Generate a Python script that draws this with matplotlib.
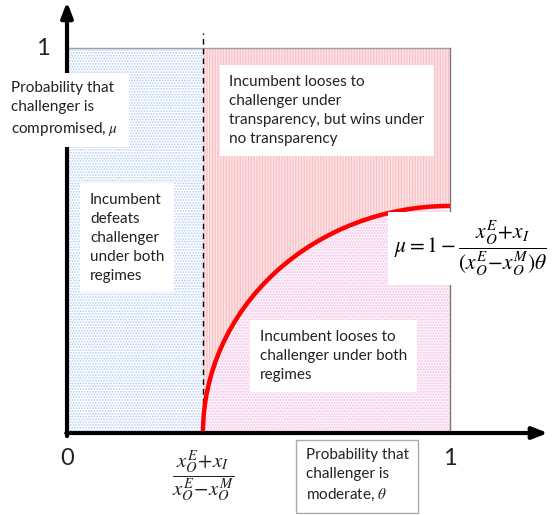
"""Schematic: incumbent vs challenger regions in (theta, mu) space.

Output: out.png
"""
import matplotlib
matplotlib.use("Agg")
import matplotlib.pyplot as plt  # noqa: E402
from matplotlib.patches import Rectangle, Ellipse, Arc  # noqa: E402

plt.rcParams["font.family"] = ["Lato", "DejaVu Sans"]
plt.rcParams["mathtext.fontset"] = "stix"
plt.rcParams["hatch.linewidth"] = 0.9

# values
THRESHOLD = 0.355        # (x_O^E + x_I)/(x_O^E - x_O^M) on the theta axis
CURVE_TOP = 0.59         # mu of the boundary at theta = 1
X_TICKS = [0, THRESHOLD, 1]
X_TICKLABELS = ["0", r"$\dfrac{x_O^E\!+\!x_I}{x_O^E\!-\!x_O^M}$", "1"]
Y_TICKS = [1]
Y_TICKLABELS = ["1"]
REGION_TEXT = [
    "Incumbent\ndefeats\nchallenger\nunder both\nregimes",
    "Incumbent looses to\nchallenger under\ntransparency, but wins under\nno transparency",
    "Incumbent looses to\nchallenger under both\nregimes",
]
Y_LABEL = "Probability that\nchallenger is\ncompromised, $\\mu$"
X_LABEL = "Probability that\nchallenger is\nmoderate, $\\theta$"
FORMULA = r"$\mu = 1 - \dfrac{x_O^E\!+\!x_I}{(x_O^E\!-\!x_O^M)\theta}$"

INK = "#222222"
BLUE_DOT = "#b5cff7"
PINK_BG, PINK_LINE = "#fde3e5", "#f8c2c7"
LOW_BG, LOW_DOT = "#fdf2fa", "#f2c4e8"


def main():
    fig = plt.figure(figsize=(5.56, 5.15), dpi=100)
    ax = fig.add_axes([0, 0, 1, 1])
    ax.set_xlim(-0.175, 1.277)
    ax.set_ylim(-0.213, 1.125)
    ax.axis("off")

    # regions
    ax.add_patch(Rectangle((0, 0), THRESHOLD, 1, facecolor="white",
                           edgecolor=BLUE_DOT, hatch="......", lw=0, zorder=1))
    box = Rectangle((THRESHOLD, 0), 1 - THRESHOLD, 1, facecolor=PINK_BG,
                    edgecolor=PINK_LINE, hatch="||||||", lw=0, zorder=1)
    ax.add_patch(box)
    under = Ellipse((1, 0), 2 * (1 - THRESHOLD), 2 * CURVE_TOP, facecolor=LOW_BG,
                    edgecolor=LOW_DOT, hatch="......", lw=0, zorder=2)
    ax.add_patch(under)
    under.set_clip_path(box)

    # box outline
    ax.plot([0, 1], [1, 1], color="#a0a0a0", lw=1, zorder=3)
    ax.plot([1, 1], [0, 1], color="#777777", lw=1, zorder=3)
    ax.plot([THRESHOLD, THRESHOLD], [0, 1.04], color="black", lw=1,
            ls=(0, (4, 3)), zorder=4)

    # boundary curve
    ax.add_patch(Arc((1, 0), 2 * (1 - THRESHOLD), 2 * CURVE_TOP, theta1=90,
                     theta2=180, color="#ff0000", lw=3.2, zorder=5))

    # axes with arrows
    ax.annotate("", xy=(1.256, 0), xytext=(-0.002, 0),
                arrowprops=dict(arrowstyle="-|>,head_length=0.9,head_width=0.35",
                                color="black", lw=3, shrinkA=0, shrinkB=0), zorder=6)
    ax.annotate("", xy=(0, 1.12), xytext=(0, -0.008),
                arrowprops=dict(arrowstyle="-|>,head_length=0.9,head_width=0.35",
                                color="black", lw=3, shrinkA=0, shrinkB=0), zorder=6)

    # tick labels
    for x, lab in zip(X_TICKS, X_TICKLABELS):
        ax.text(x, -0.04, lab, ha="center", va="top",
                fontsize=17 if len(lab) < 3 else 15, color=INK)
    for y, lab in zip(Y_TICKS, Y_TICKLABELS):
        ax.text(-0.045, y, lab, ha="right", va="center", fontsize=17, color=INK)

    txt = dict(fontsize=11, color=INK, ha="left", va="top", linespacing=1.45,
               zorder=7)
    white = dict(facecolor="white", edgecolor="none", pad=7)
    ax.text(-0.145, 0.915, Y_LABEL, bbox=white, **txt)
    ax.text(0.06, 0.624, REGION_TEXT[0], bbox=white, **txt)
    ax.text(0.424, 0.93, REGION_TEXT[1], bbox=white, **txt)
    ax.text(0.503, 0.267, REGION_TEXT[2], bbox=white, **txt)
    ax.text(0.623, -0.04, X_LABEL, bbox=dict(facecolor="white", edgecolor="#aaaaaa",
                                             lw=1, pad=7), **txt)
    ax.text(0.855, 0.48, FORMULA, fontsize=15.5, color="black", ha="left",
            va="center", zorder=7,
            bbox=dict(facecolor="white", edgecolor="none", pad=5))

    fig.savefig("out.png", facecolor="white")


if __name__ == "__main__":
    main()
